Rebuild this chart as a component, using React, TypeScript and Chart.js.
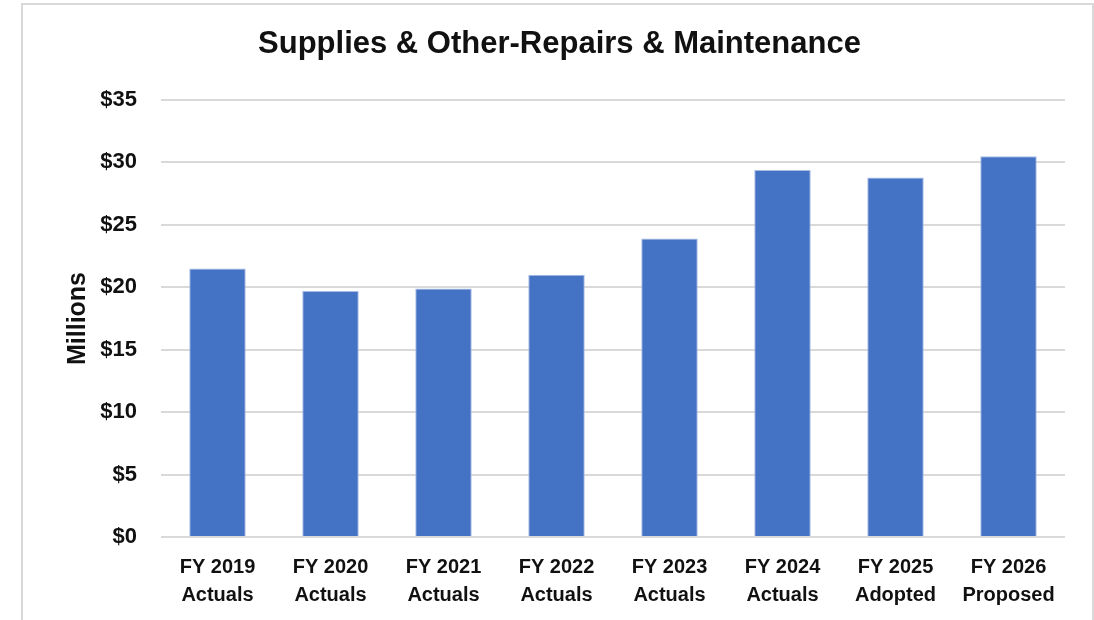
import React, { useEffect, useRef } from "react";
import { Chart, registerables } from "chart.js";

Chart.register(...registerables);

const fiscalYears = ["FY 2019", "FY 2020", "FY 2021", "FY 2022", "FY 2023", "FY 2024", "FY 2025", "FY 2026"];
const budgetTypes = ["Actuals", "Actuals", "Actuals", "Actuals", "Actuals", "Actuals", "Adopted", "Proposed"];
const spendingMillions = [21.5, 19.7, 19.9, 21.0, 23.9, 29.4, 28.8, 30.5];
const yTickMin = 0;
const yTickMax = 35;
const yTickStep = 5;

const FONT = "'Liberation Sans', Arial, Helvetica, sans-serif";
const TEXT = "#111111";

export default function App() {
  const canvasRef = useRef<HTMLCanvasElement | null>(null);

  useEffect(() => {
    const canvas = canvasRef.current;
    if (!canvas) return;
    const labels = fiscalYears.map((fy, i) => [fy, budgetTypes[i]]);
    const chart = new Chart(canvas, {
      type: "bar",
      data: {
        labels,
        datasets: [
          {
            label: "Supplies & Other-Repairs & Maintenance",
            data: spendingMillions,
            backgroundColor: "#4472C4",
            borderColor: "#A9BEE6",
            borderWidth: 1,
            barPercentage: 0.5,
            categoryPercentage: 1,
          },
        ],
      },
      options: {
        animation: false,
        responsive: false,
        maintainAspectRatio: false,
        layout: { padding: { left: 54, right: 29, top: 0, bottom: 0 } },
        plugins: {
          legend: { display: false },
          tooltip: { enabled: false },
          title: {
            display: true,
            text: "Supplies & Other-Repairs & Maintenance",
            color: TEXT,
            font: { family: FONT, size: 31, weight: "bold", lineHeight: 1.2 },
            padding: { top: 26, bottom: 36.8 },
          },
        },
        scales: {
          x: {
            grid: { display: false, drawTicks: false },
            border: { display: false },
            ticks: {
              color: TEXT,
              padding: 16,
              maxRotation: 0,
              autoSkip: false,
              font: { family: FONT, size: 20, weight: "bold", lineHeight: 1.4 },
            },
            afterFit: (scale: any) => {
              scale.height = 83;
            },
          },
          y: {
            min: yTickMin,
            max: yTickMax,
            grid: { color: "#D9D9D9", lineWidth: 2, drawTicks: false },
            border: { display: false },
            ticks: {
              stepSize: yTickStep,
              color: TEXT,
              padding: 24,
              font: { family: FONT, size: 22, weight: "bold" },
              callback: (v: any) => "$" + v,
            },
            title: {
              display: true,
              text: "Millions",
              color: TEXT,
              font: { family: FONT, size: 25, weight: "bold", lineHeight: 1.2 },
              padding: { top: 9, bottom: 0 },
            },
            afterFit: (scale: any) => {
              scale.width = 107;
            },
          },
        },
      },
    });
    return () => chart.destroy();
  }, []);

  return (
    <div style={{ position: "absolute", left: 0, top: 0, width: 1094, height: 620, background: "#fff", overflow: "hidden" }}>
      <div
        style={{
          position: "absolute",
          left: 21,
          top: 3,
          width: 1073,
          height: 700,
          border: "2px solid #D9D9D9",
          boxSizing: "border-box",
        }}
      />
      <canvas ref={canvasRef} width={1094} height={620} style={{ position: "absolute", left: 0, top: 0, width: 1094, height: 620 }} />
    </div>
  );
}
